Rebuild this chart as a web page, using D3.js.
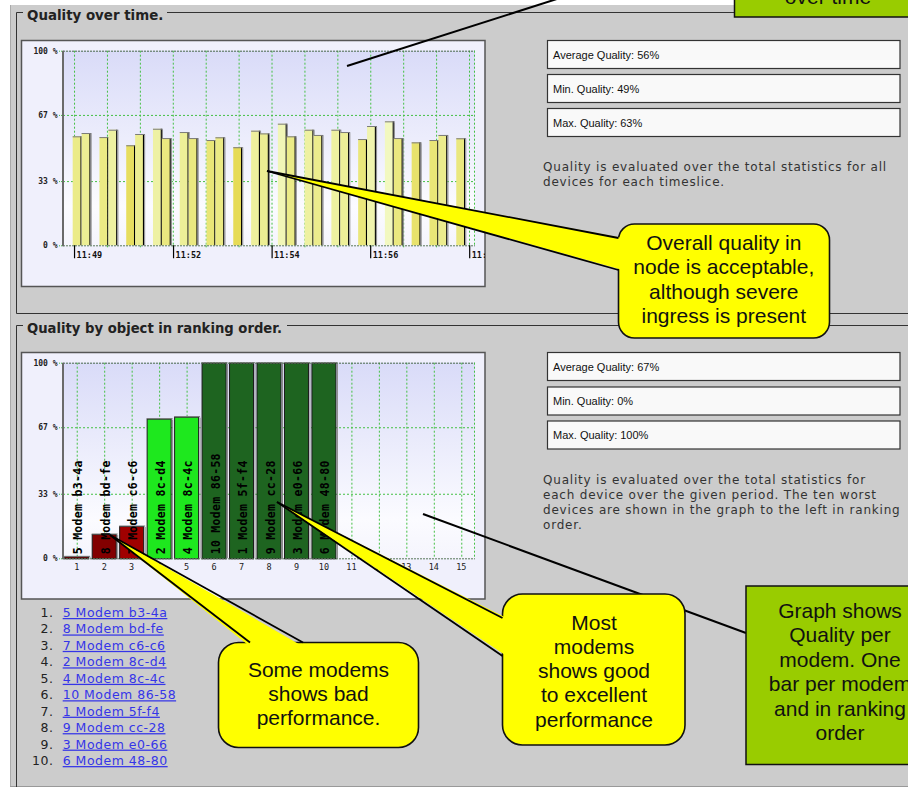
<!DOCTYPE html>
<html><head><meta charset="utf-8">
<script src="https://cdn.jsdelivr.net/npm/d3@7/dist/d3.min.js"></script>
<style>
html,body{margin:0;padding:0;background:#fff;overflow:hidden}
svg{display:block}
</style></head><body>
<svg id="c" width="908" height="787"></svg>
<script>
// ---------- DATA ----------
// Chart 1: quality per timeslice (slot index on the time axis, empty slots have no bar)
const timeSlots   = [0,1,3,4,6,7,9,10,12,13,15,16,18,20,21,23,24,26,27,29,30,32,33,35,36,38,40,41,43];
const timeQuality = [56,57.7,55.6,59.4,51.4,57.2,59.9,55.1,58.2,55.1,54.1,55.5,50.4,58.9,57.5,62.5,56,59.4,56.7,59.4,58.2,54.6,61.3,63.7,55.1,52.9,54.1,56.7,55];
const timeTickSlots  = [0.15, 11.25, 22.3, 33.35, 44.45];
const timeTickLabels = ["11:49","11:52","11:54","11:56","11:58"];
const yTickValues = [0,33,67,100];
const yTickLabels = ["0 %","33 %","67 %","100 %"];

// Chart 2: quality by object in ranking order
const rankSlots    = [1,2,3,4,5,6,7,8,9,10,11,12,13,14,15];
const modemNames   = ["5 Modem b3-4a","8 Modem bd-fe","7 Modem c6-c6","2 Modem 8c-d4","4 Modem 8c-4c","10 Modem 86-58","1 Modem 5f-f4","9 Modem cc-28","3 Modem e0-66","6 Modem 48-80"];
const modemQuality = [1,12.4,16.5,71.4,72.4,100,100,100,100,100];

const stats1 = ["Average Quality: 56%","Min. Quality: 49%","Max. Quality: 63%"];
const stats2 = ["Average Quality: 67%","Min. Quality: 0%","Max. Quality: 100%"];
const desc1 = ["Quality is evaluated over the total statistics for all","devices for each timeslice."];
const desc2 = ["Quality is evaluated over the total statistics for","each device over the given period. The ten worst","devices are shown in the graph to the left in ranking","order."];
const calloutOverall = ["Overall quality in","node is acceptable,","although severe","ingress is present"];
const calloutSome = ["Some modems","shows bad","performance."];
const calloutMost = ["Most","modems","shows good","to excellent","performance"];
const noteGraph = ["Graph shows","Quality per","modem. One","bar per modem","and in ranking","order"];

// ---------- DRAW ----------
const W=908,H=787;
const svg=d3.select("#c");
const defs=svg.append("defs");
const gr=defs.append("linearGradient").attr("id","pg").attr("x1",0).attr("y1",0).attr("x2",0).attr("y2",1);
gr.append("stop").attr("offset","0").attr("stop-color","#d9dbf8");
gr.append("stop").attr("offset","0.8").attr("stop-color","#fbfbff");
gr.append("stop").attr("offset","1").attr("stop-color","#f5f5fd");

const SANS="'DejaVu Sans', Verdana, sans-serif";
const ARIAL="'Liberation Sans', Arial, sans-serif";
const MONO="'DejaVu Sans Mono', monospace";

svg.append("rect").attr("width",W).attr("height",H).attr("fill","#fff");
svg.append("rect").attr("x",10).attr("y",5).attr("width",W).attr("height",781).attr("fill","#cccccc");
svg.append("line").attr("x1",10.5).attr("x2",10.5).attr("y1",5).attr("y2",787).attr("stroke","#aaa");
svg.append("line").attr("x1",10).attr("x2",W).attr("y1",786.5).attr("y2",786.5).attr("stroke","#999");

// fieldsets
function fieldset(yTop, legendEnd, yBottom, label, fs){
  const p = yBottom!=null ? `M23,${yTop}H16.5V${yBottom}H${W+5}` : `M23,${yTop}H16.5V${H+5}`;
  svg.append("path").attr("d",p).attr("fill","none").attr("stroke","#333");
  svg.append("path").attr("d",`M${legendEnd},${yTop}H${W+5}`).attr("stroke","#333");
  svg.append("text").attr("x",27).attr("y",yTop+7.5).attr("font-family",SANS).attr("font-weight","bold")
    .attr("font-size",fs).attr("fill","#222").text(label);
}
fieldset(12.5,167,313.5,"Quality over time.",13.4);
fieldset(325.5,287,null,"Quality by object in ranking order.",13.2);

function chartFrame(box, plot, id){
  defs.append("clipPath").attr("id",id).append("rect")
    .attr("x",box.x).attr("y",box.y).attr("width",box.w).attr("height",box.h);
  svg.append("rect").attr("x",box.x).attr("y",box.y).attr("width",box.w).attr("height",box.h)
    .attr("fill","#f0f0fc").attr("stroke","#555").attr("stroke-width",1.5);
  const g=svg.append("g").attr("clip-path",`url(#${id})`);
  g.append("rect").attr("x",plot.x0).attr("y",plot.y0).attr("width",plot.x1-plot.x0).attr("height",plot.y1-plot.y0)
    .attr("fill","url(#pg)");
  return g;
}
function dotted(g,x1,y1,x2,y2,color,dash){
  g.append("line").attr("x1",x1).attr("y1",y1).attr("x2",x2).attr("y2",y2)
    .attr("stroke",color||"#44c044").attr("stroke-width",1).attr("stroke-dasharray",dash||"2,2");
}
function yAxis(g, plot, y){
  yTickValues.forEach((v,i)=>{
    if(v>0 && v<100) dotted(g,plot.x0,y(v)+0.5,plot.x1,y(v)+0.5);
    g.append("line").attr("x1",plot.x0-4).attr("x2",plot.x0).attr("y1",y(v)+0.5).attr("y2",y(v)+0.5)
      .attr("stroke","#44c044").attr("stroke-dasharray","1,1");
    g.append("text").attr("x",57.5).attr("y",y(v)+3).attr("text-anchor","end")
      .attr("font-family",MONO).attr("font-weight","bold").attr("font-size",8).attr("fill","#222").text(yTickLabels[i]);
  });
}
function plotBorders(g, plot){
  dotted(g,plot.x0,plot.y0+0.5,plot.x1,plot.y0+0.5,"#4a6a4a","2,1");
  dotted(g,plot.x1-0.5,plot.y0,plot.x1-0.5,plot.y1,"#44c044");
  dotted(g,plot.x0,plot.y1+0.5,plot.x1,plot.y1+0.5,"#5a7a5a","2,1");
  g.append("line").attr("x1",plot.x0).attr("x2",plot.x0).attr("y1",plot.y0).attr("y2",plot.y1+1)
    .attr("stroke","#6a6a6a").attr("stroke-width",2);
}

// ---- Chart 1 ----
const box1={x:21.5,y:40.5,w:463.5,h:246}, plot1={x0:63,x1:475,y0:50.7,y1:245.3};
const g1=chartFrame(box1,plot1,"cl1");
const slotW=8.92;
const x1=d3.scaleLinear().domain([-(72.7-plot1.x0)/slotW, -(72.7-plot1.x0)/slotW + (plot1.x1-plot1.x0)/slotW]).range([plot1.x0,plot1.x1]);
const y1=d3.scaleLinear().domain([0,100]).range([plot1.y1,plot1.y0]);
const col1=d3.scaleLinear().domain([50,56,64]).range(["#e6da52","#ebeb88","#f2f8c2"]).clamp(true);
d3.range(timeTickSlots[0],45,3.69).forEach(s=>{
  dotted(g1,x1(s)+0.5,plot1.y0,x1(s)+0.5,plot1.y1);
  dotted(g1,x1(s)+0.5,plot1.y1,x1(s)+0.5,plot1.y1+4);
});
yAxis(g1,plot1,y1);
const bw=x1(1)-x1(0);
timeSlots.forEach((s,i)=>{
  const xl=x1(s), yt=y1(timeQuality[i]);
  g1.append("rect").attr("x",xl).attr("y",yt).attr("width",bw-0.6).attr("height",plot1.y1-yt).attr("fill",col1(timeQuality[i]));
  g1.append("line").attr("x1",xl+bw-0.6).attr("x2",xl+bw-0.6).attr("y1",yt).attr("y2",plot1.y1).attr("stroke","#000").attr("stroke-width",1.1);
  g1.append("line").attr("x1",xl+bw+0.6).attr("x2",xl+bw+0.6).attr("y1",yt+1).attr("y2",plot1.y1).attr("stroke","#8a8a8a").attr("stroke-width",1);
  g1.append("line").attr("x1",xl).attr("x2",xl+bw+1).attr("y1",yt+0.5).attr("y2",yt+0.5).attr("stroke","#7a7a7a").attr("stroke-width",1);
});
plotBorders(g1,plot1);
timeTickSlots.forEach((s,i)=>{
  const xx=x1(s)+0.5;
  g1.append("line").attr("x1",xx).attr("x2",xx).attr("y1",plot1.y1).attr("y2",plot1.y1+13).attr("stroke","#000").attr("stroke-width",1.2);
  g1.append("text").attr("x",xx+2).attr("y",plot1.y1+13).attr("font-family",MONO).attr("font-weight","bold")
    .attr("font-size",8.5).attr("fill","#111").text(timeTickLabels[i]);
});

// ---- Chart 2 ----
const box2={x:21.5,y:352.5,w:463.5,h:246.5}, plot2={x0:63,x1:475,y0:362.7,y1:558.3};
const g2=chartFrame(box2,plot2,"cl2");
const x2=d3.scaleBand().domain(rankSlots).range([plot2.x0,plot2.x1]).paddingInner(0.09).paddingOuter(0.045);
const y2=d3.scaleLinear().domain([0,100]).range([plot2.y1,plot2.y0]);
const col2=d3.scaleThreshold().domain([14,30,90]).range(["#820000","#a00000","#1ee81e","#1e6420"]);
rankSlots.forEach(r=>{ const cx=x2(r)+x2.bandwidth()/2; dotted(g2,cx+0.5,plot2.y0,cx+0.5,plot2.y1); });
yAxis(g2,plot2,y2);
modemQuality.forEach((v,i)=>{
  const r=rankSlots[i], xl=x2(r), yt=y2(v), w=x2.bandwidth();
  g2.append("rect").attr("x",xl+0.5).attr("y",yt+0.5).attr("width",w-1).attr("height",Math.max(plot2.y1-yt,1.5))
    .attr("fill",col2(v)).attr("stroke","#1a1a1a").attr("stroke-width",1);
  g2.append("line").attr("x1",xl).attr("x2",xl+w+1).attr("y1",yt).attr("y2",yt).attr("stroke","#777").attr("stroke-width",1);
  g2.append("line").attr("x1",xl+w+1).attr("x2",xl+w+1).attr("y1",yt+1).attr("y2",plot2.y1).attr("stroke","#8a8a8a").attr("stroke-width",1);
});
plotBorders(g2,plot2);
modemNames.forEach((n,i)=>{
  const cx=x2(rankSlots[i])+x2.bandwidth()/2+1.5;
  g2.append("text").attr("transform",`translate(${cx+4},${plot2.y1-4}) rotate(-90)`)
    .attr("font-family",MONO).attr("font-weight","bold").attr("font-size",11.5).attr("letter-spacing",0.3)
    .attr("fill","#000").text(n);
});
rankSlots.forEach(r=>{
  g2.append("text").attr("x",x2(r)+x2.bandwidth()/2).attr("y",plot2.y1+12).attr("text-anchor","middle")
    .attr("font-family",MONO).attr("font-size",8.5).attr("fill","#222").text(r);
});

// ---- stat boxes & descriptions ----
function statBoxes(list, tops){
  list.forEach((t,i)=>{
    svg.append("rect").attr("x",547.5).attr("y",tops[i]).attr("width",352.5).attr("height",28)
      .attr("fill","#f9f9f9").attr("stroke","#333").attr("stroke-width",1.2);
    svg.append("text").attr("x",553).attr("y",tops[i]+18).attr("font-family",ARIAL).attr("font-size",11)
      .attr("fill","#111").text(t);
  });
}
statBoxes(stats1,[40.5,74.5,108.5]);
statBoxes(stats2,[352.5,387,421]);
function para(lines, y0){
  lines.forEach((t,i)=>svg.append("text").attr("x",543).attr("y",y0+i*15).attr("font-family",SANS)
    .attr("font-size",12).attr("letter-spacing",0.8).attr("fill","#333").text(t));
}
para(desc1,171);
para(desc2,484.3);

// ---- ranked list ----
modemNames.forEach((n,i)=>{
  const yy=617+i*16.45;
  svg.append("text").attr("x",53.5).attr("y",yy).attr("text-anchor","end").attr("font-family",SANS)
    .attr("font-size",12.5).attr("letter-spacing",0.5).attr("fill","#222").text((i+1)+".");
  svg.append("text").attr("x",62.7).attr("y",yy).attr("font-family",SANS).attr("font-size",12.5).attr("letter-spacing",0.5)
    .attr("fill","#3535e8").attr("text-decoration","underline").text(n);
});

// ---- annotations ----
const ann=svg.append("g");
function greenNote(x,y,w,h,lines,cx,firstBase){
  ann.append("rect").attr("x",x).attr("y",y).attr("width",w).attr("height",h).attr("fill","#99cc00").attr("stroke","#111").attr("stroke-width",1.5);
  lines.forEach((t,i)=>ann.append("text").attr("x",cx).attr("y",firstBase+i*24.5).attr("text-anchor","middle")
    .attr("font-family",ARIAL).attr("font-size",21).attr("fill","#111").text(t));
}
function line(a,b){ ann.append("line").attr("x1",a[0]).attr("y1",a[1]).attr("x2",b[0]).attr("y2",b[1]).attr("stroke","#000").attr("stroke-width",2); }
// top green note (cut off at the page edge, as in the reference) + connector
line([560,-2],[347,66]);
greenNote(734.5,-40,200,57,["over time"],828,4);
// graph note
line([746,633],[423,514]);
greenNote(746,586,200,178.5,noteGraph,840,617.5);

function bubble(x,y,w,h,r,tip,b1,b2,lines,cx,firstBase){
  ann.append("rect").attr("x",x).attr("y",y).attr("width",w).attr("height",h).attr("rx",r).attr("ry",r)
    .attr("fill","#ffff00").attr("stroke","#111").attr("stroke-width",1.6);
  const inset = b1[0]===b2[0] ? [4,0] : [0,4];
  ann.append("path").attr("d",`M${tip[0]},${tip[1]}L${b1[0]+inset[0]},${b1[1]+inset[1]}L${b2[0]+inset[0]},${b2[1]+inset[1]}Z`)
    .attr("fill","#ffff00");
  [b1,b2].forEach(b=>ann.append("line").attr("x1",tip[0]).attr("y1",tip[1]).attr("x2",b[0]).attr("y2",b[1])
    .attr("stroke","#000").attr("stroke-width",1.8));
  lines.forEach((t,i)=>ann.append("text").attr("x",cx).attr("y",firstBase+i*24.3).attr("text-anchor","middle")
    .attr("font-family",ARIAL).attr("font-size",21).attr("fill","#111").text(t));
}
bubble(618.5,224,211,114,16,[267,171],[618.5,238],[618.5,270],calloutOverall,723.8,250);
bubble(218.5,642.5,200,105,20,[110,535],[250,642.5],[303,642.5],calloutSome,318.5,676.5);
bubble(502.5,594,182.5,151,20,[277,502],[502.5,618],[502.5,656],calloutMost,594,629.5);
</script>
</body></html>
